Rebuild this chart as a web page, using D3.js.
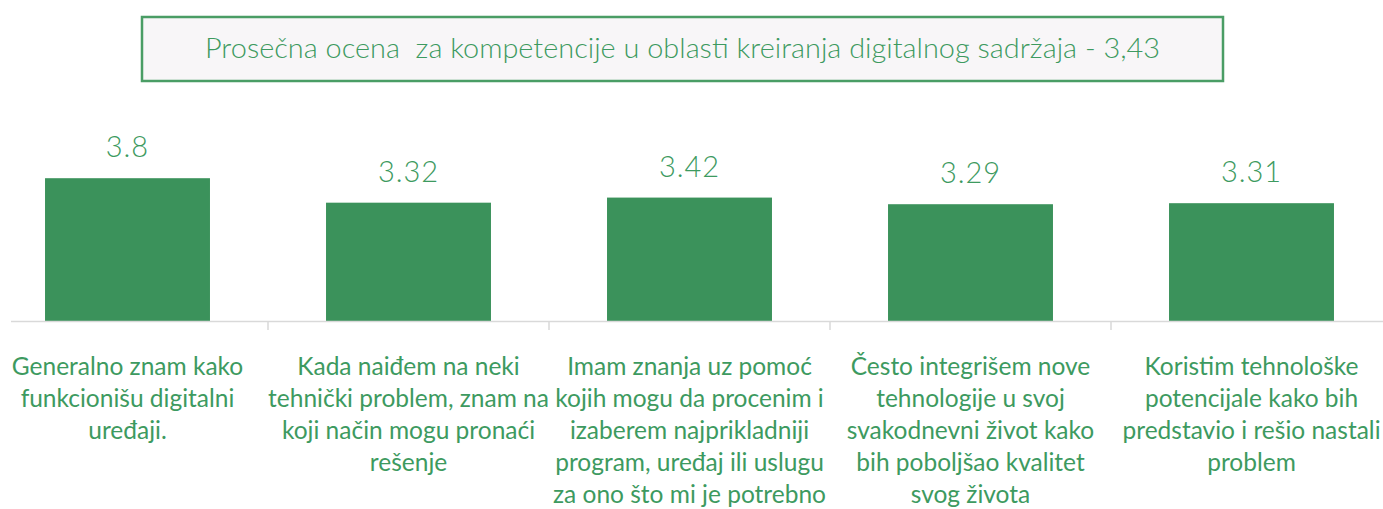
<!DOCTYPE html>
<html>
<head>
<meta charset="utf-8">
<script src="https://cdn.jsdelivr.net/npm/d3@7"></script>
<style>
  html, body { margin: 0; padding: 0; background: #ffffff; }
  svg { display: block; }
</style>
</head>
<body>
<svg id="chart" width="1383" height="509"></svg>
<script>
// Chart data
const title = "Prosečna ocena  za kompetencije u oblasti kreiranja digitalnog sadržaja - 3,43";
const categories = [
  ["Generalno znam kako", "funkcionišu digitalni", "uređaji."],
  ["Kada naiđem na neki", "tehnički problem, znam na", "koji način mogu pronaći", "rešenje"],
  ["Imam znanja uz pomoć", "kojih mogu da procenim i", "izaberem najprikladniji", "program, uređaj ili uslugu", "za ono što mi je potrebno"],
  ["Često integrišem nove", "tehnologije u svoj", "svakodnevni život kako", "bih poboljšao kvalitet", "svog života"],
  ["Koristim tehnološke", "potencijale kako bih", "predstavio i rešio nastali", "problem"]
];
const values = [3.8, 3.32, 3.42, 3.29, 3.31];
const valueLabels = ["3.8", "3.32", "3.42", "3.29", "3.31"];

const W = 1383, H = 509;
const green = "#3b925b";
const textGreen = "#3d9a60";

const svg = d3.select("#chart");
const ids = categories.map((c, i) => i);

// Scales
const x = d3.scaleBand().domain(ids).range([-13, 1392]).paddingInner(0.413).paddingOuter(0.2065);
const y = d3.scaleLinear().domain([1, 4]).range([321, 168]);

// Title box
const tg = svg.append("g");
tg.append("rect")
  .attr("x", 142).attr("y", 17).attr("width", 1081).attr("height", 64)
  .attr("fill", "#f8f6f8").attr("stroke", "#4a9d65").attr("stroke-width", 2.5);
tg.append("text")
  .attr("x", 682.5).attr("y", 58)
  .attr("text-anchor", "middle")
  .attr("font-family", "Lato, 'Open Sans', sans-serif")
  .attr("font-weight", 300)
  .attr("font-size", 27)
  .attr("fill", textGreen)
  .attr("textLength", 955)
  .attr("lengthAdjust", "spacingAndGlyphs")
  .style("white-space", "pre")
  .text(title);

// Bars
svg.append("g").selectAll("rect")
  .data(values)
  .join("rect")
  .attr("x", (d, i) => x(i))
  .attr("y", d => y(d))
  .attr("width", x.bandwidth())
  .attr("height", d => y(1) - y(d))
  .attr("fill", green);

// Value labels
svg.append("g").selectAll("text")
  .data(values)
  .join("text")
  .attr("x", (d, i) => x(i) + x.bandwidth() / 2)
  .attr("y", d => y(d) - 21)
  .attr("text-anchor", "middle")
  .attr("font-family", "Lato, 'Open Sans', sans-serif")
  .attr("font-weight", 300)
  .attr("font-size", 29)
  .attr("letter-spacing", 1)
  .attr("fill", textGreen)
  .text((d, i) => valueLabels[i]);

// Category axis: baseline and boundary ticks
const axis = svg.append("g").attr("stroke", "#d9d9d9").attr("stroke-width", 1.5);
axis.append("line")
  .attr("x1", 11).attr("x2", W)
  .attr("y1", y(1) + 0.5).attr("y2", y(1) + 0.5);
axis.selectAll("line.tick")
  .data(ids.slice(1))
  .join("line")
  .attr("class", "tick")
  .attr("x1", i => x(i) - x.step() * x.paddingInner() / 2)
  .attr("x2", i => x(i) - x.step() * x.paddingInner() / 2)
  .attr("y1", y(1) + 0.5).attr("y2", y(1) + 9);

// Category labels
const lab = svg.append("g")
  .attr("font-family", "Lato, 'Open Sans', sans-serif")
  .attr("font-size", 24.5)
  .attr("fill", textGreen)
  .attr("text-anchor", "middle");
lab.selectAll("text")
  .data(categories)
  .join("text")
  .attr("transform", (d, i) => `translate(${x(i) + x.bandwidth() / 2},375)`)
  .selectAll("tspan")
  .data(d => d)
  .join("tspan")
  .attr("x", 0)
  .attr("y", (d, j) => j * 32)
  .text(d => d);
</script>
</body>
</html>
